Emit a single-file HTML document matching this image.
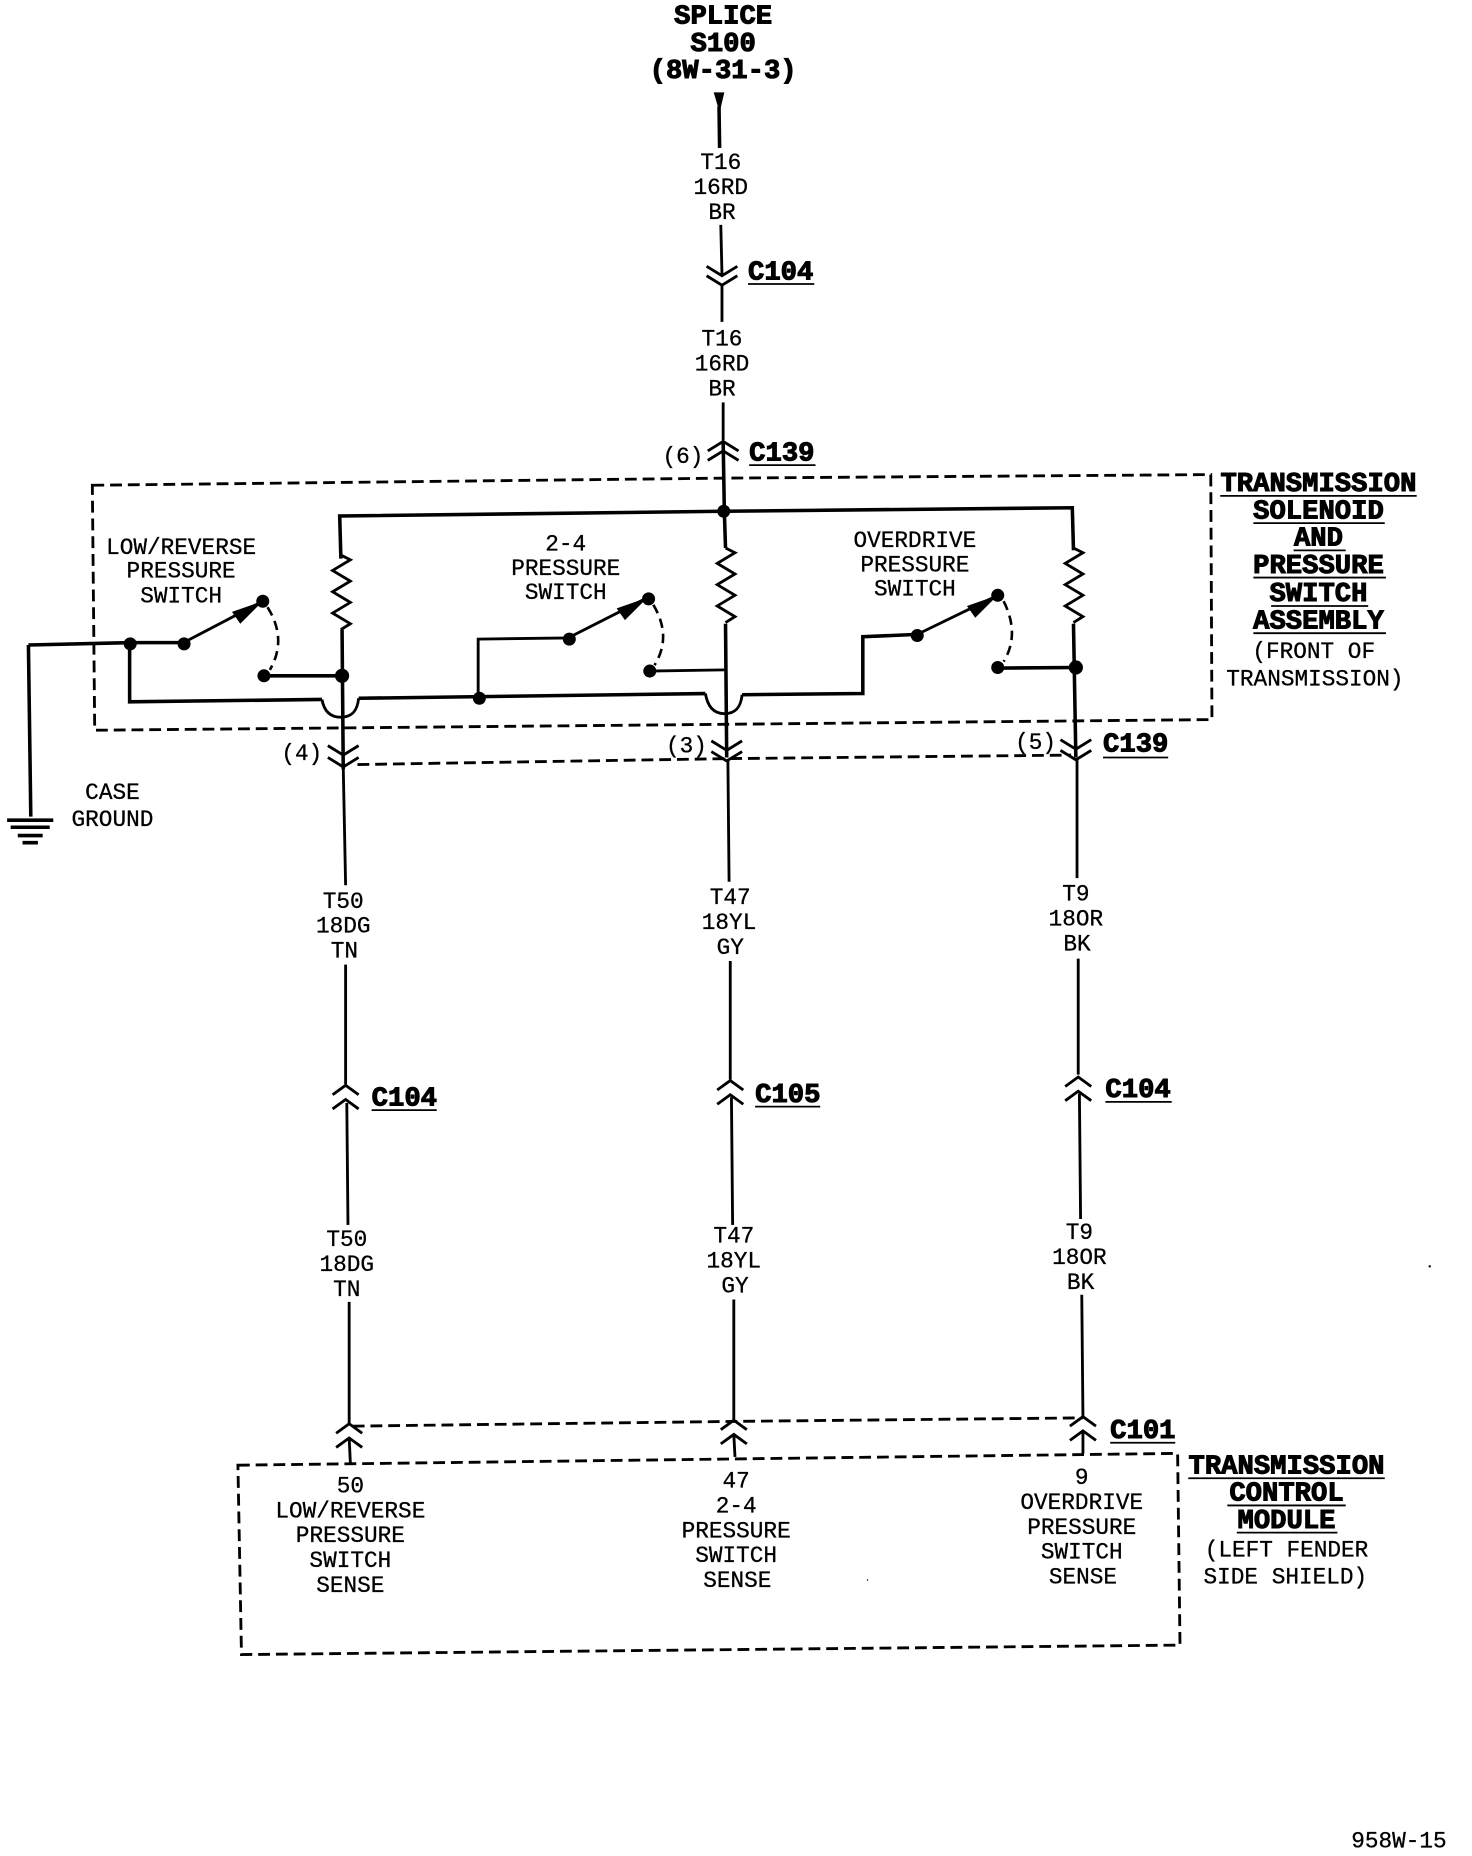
<!DOCTYPE html>
<html><head><meta charset="utf-8"><style>
html,body{margin:0;padding:0;background:#fff}
svg{display:block}
.t{font:19.2px "Liberation Mono",monospace;text-anchor:middle;fill:#000;stroke:#000;stroke-width:.25}
.b{font:bold 23px "Liberation Mono",monospace;text-anchor:middle;fill:#000;stroke:#000;stroke-width:.9}
.c{font:bold 23px "Liberation Mono",monospace;fill:#000;stroke:#000;stroke-width:.9}
.w{fill:none;stroke:#000;stroke-width:2.4;stroke-linejoin:miter}
.h{fill:none;stroke:#000;stroke-width:3}
.d{fill:none;stroke:#000;stroke-width:2.4;stroke-dasharray:10 5}
.a{fill:none;stroke:#000;stroke-width:2.2;stroke-dasharray:8 5}
.u{fill:none;stroke:#000;stroke-width:1.5}
</style></head><body>
<svg width="1472" height="1856" viewBox="0 0 1243.7 1568.2" xmlns="http://www.w3.org/2000/svg">
<rect width="1243.7" height="1568.2" fill="#fff"/>
<!-- top -->
<text class="b" x="611" y="20">SPLICE</text>
<text class="b" x="611" y="43">S100</text>
<text class="b" x="611" y="66">(8W-31-3)</text>
<path d="M603,78H612L608,95Z" fill="#000"/>
<path class="h" d="M607.5,90L608,125"/>
<text class="t" x="609" y="143">T16</text>
<text class="t" x="609" y="164">16RD</text>
<text class="t" x="610" y="185">BR</text>
<path class="w" d="M609,190L610,232M610,240V272"/>
<path class="w" d="M597,225L610,233L623,225M597,233L610,241L623,233"/>
<text class="c" x="632" y="236">C104</text><path class="u" d="M632,240H688"/>
<text class="t" x="610" y="292">T16</text>
<text class="t" x="610" y="313">16RD</text>
<text class="t" x="610" y="334">BR</text>
<path class="w" d="M611,340V372"/>
<path class="w" d="M598,381L611,373L624,381M598,389L611,381L624,389"/>
<text class="t" x="577" y="391">(6)</text>
<text class="c" x="633" y="389">C139</text><path class="u" d="M633,393H689"/>
<path class="h" d="M611,373L612,432"/>
<!-- assembly box -->
<path class="d" d="M78,410L611,404L1023,401L1024,608L612,612L80,617Z"/>
<text class="b" x="1114" y="415">TRANSMISSION</text><path class="u" d="M1031,419H1197"/>
<text class="b" x="1114" y="438">SOLENOID</text><path class="u" d="M1059,442H1170"/>
<text class="b" x="1114" y="461">AND</text><path class="u" d="M1093,465H1137"/>
<text class="b" x="1114" y="484">PRESSURE</text><path class="u" d="M1059,488H1171"/>
<text class="b" x="1114" y="508">SWITCH</text><path class="u" d="M1074,512H1156"/>
<text class="b" x="1114" y="531">ASSEMBLY</text><path class="u" d="M1059,535H1171"/>
<text class="t" x="1110" y="556">(FRONT OF</text>
<text class="t" x="1111" y="579">TRANSMISSION)</text>
<!-- bus -->
<path class="h" d="M288,472L287,436L611,432L906,429L907,465"/>
<circle cx="611.5" cy="432" r="5.5"/>
<path class="w" d="M288,469l8,4l-15,9l15,9l-15,9l15,9l-15,9l15,9l-8,5"/>
<path class="w" d="M613,463l8,4l-15,9l15,9l-15,9l15,9l-15,9l15,9l-8,5"/>
<path class="w" d="M907,463l8,4l-15,9l15,9l-15,9l15,9l-15,9l15,9l-8,5"/>
<path class="h" d="M612,432L613,463"/>
<path class="h" d="M289,532L290,650M613,527L614,640M907,527L909,640"/>
<!-- low/reverse switch -->
<text class="t" x="153" y="468">LOW/REVERSE</text>
<text class="t" x="153" y="488">PRESSURE</text>
<text class="t" x="153" y="509">SWITCH</text>
<path class="h" d="M24,545L110,543H155"/>
<path class="h" d="M24,545L26,690"/>
<path class="h" d="M6,693H45M9,699H42M15,706H36M19,712H32"/>
<path class="w" d="M155,543L222,508"/>
<path d="M222,508L196,517L203,527Z" fill="#000"/>
<circle cx="110" cy="544" r="5.5"/><circle cx="155.5" cy="544" r="5.5"/><circle cx="222" cy="508" r="5.5"/>
<circle cx="223" cy="571" r="5.5"/><circle cx="289" cy="571" r="6"/>
<path class="a" d="M226,513Q243,540 228,566"/>
<path class="h" d="M223,571H289"/>
<path class="h" d="M109.5,544V593L272,591"/>
<path class="w" d="M272,591C274,602 280,606 288,606C298,606 302,600 303,590"/>
<path class="h" d="M303,590L596,586"/>
<path class="w" d="M596,586C598,598 604,603 612,603C622,603 626,597 627,587"/>
<path class="h" d="M627,587L729,586V538L775,536"/>
<!-- 2-4 switch -->
<text class="t" x="478" y="465">2-4</text>
<text class="t" x="478" y="486">PRESSURE</text>
<text class="t" x="478" y="506">SWITCH</text>
<path class="w" d="M404,589V540L480,539L547,505"/>
<path d="M547,505L521,514L528,524Z" fill="#000"/>
<circle cx="405" cy="590" r="5.5"/><circle cx="481" cy="540" r="5.5"/><circle cx="548" cy="506" r="5.5"/><circle cx="549" cy="567" r="5.5"/>
<path class="a" d="M552,511Q568,538 553,562"/>
<path class="w" d="M549,567L612,566"/>
<!-- overdrive switch -->
<text class="t" x="773" y="462">OVERDRIVE</text>
<text class="t" x="773" y="483">PRESSURE</text>
<text class="t" x="773" y="503">SWITCH</text>
<path class="w" d="M775,536L843,503"/>
<path d="M843,503L817,512L824,522Z" fill="#000"/>
<circle cx="775" cy="537" r="5.5"/><circle cx="843" cy="503" r="5.5"/><circle cx="843" cy="564" r="5.5"/><circle cx="909" cy="564" r="6"/>
<path class="a" d="M848,508Q862,536 848,559"/>
<path class="h" d="M843,564.500L909,564"/>
<!-- C139 lower -->
<text class="t" x="255" y="642">(4)</text>
<text class="t" x="580" y="636">(3)</text>
<text class="t" x="875" y="633">(5)</text>
<path class="w" d="M277,630L290,638L303,630M277,640L290,648L303,640"/>
<path class="w" d="M601,626L614,634L627,626M601,635L614,643L627,635"/>
<path class="w" d="M896,625L909,633L922,625M896,634L909,642L922,634"/>
<path class="d" d="M302,646L614,641L905,638"/>
<text class="c" x="932" y="635">C139</text><path class="u" d="M932,640H987"/>
<text class="t" x="95" y="675">CASE</text>
<text class="t" x="95" y="698">GROUND</text>
<!-- wires -->
<path class="w" d="M290,648L292,748M292,815V916M293,932L294,1035M295,1100V1203"/>
<path class="w" d="M615,642L616,745M617,812V912M618,927L619,1035M620,1098V1200"/>
<path class="w" d="M910,642V742M911,810V908M912,924L913,1030M914,1094L915,1197"/>
<text class="t" x="290" y="767">T50</text><text class="t" x="290" y="788">18DG</text><text class="t" x="291" y="809">TN</text>
<text class="t" x="617" y="764">T47</text><text class="t" x="616" y="785">18YL</text><text class="t" x="617" y="806">GY</text>
<text class="t" x="909" y="761">T9</text><text class="t" x="909" y="782">18OR</text><text class="t" x="910" y="803">BK</text>
<path class="w" d="M281,925L292,917L303,925M281,937L292,929L303,937"/>
<path class="w" d="M606,921L617,913L628,921M606,933L617,925L628,933"/>
<path class="w" d="M900,918L911,910L922,918M900,930L911,922L922,930"/>
<text class="c" x="314" y="934">C104</text><path class="u" d="M314,938H369"/>
<text class="c" x="638" y="931">C105</text><path class="u" d="M638,935H693"/>
<text class="c" x="934" y="927">C104</text><path class="u" d="M934,931H990"/>
<text class="t" x="293" y="1053">T50</text><text class="t" x="293" y="1074">18DG</text><text class="t" x="293" y="1095">TN</text>
<text class="t" x="620" y="1050">T47</text><text class="t" x="620" y="1071">18YL</text><text class="t" x="621" y="1092">GY</text>
<text class="t" x="912" y="1047">T9</text><text class="t" x="912" y="1068">18OR</text><text class="t" x="913" y="1089">BK</text>
<!-- C101 -->
<path class="d" d="M298,1205L620,1201L915,1198"/>
<path class="w" d="M284,1211L295,1203L306,1211M284,1223L295,1215L306,1223"/>
<path class="w" d="M609,1208L620,1200L631,1208M609,1220L620,1212L631,1220"/>
<path class="w" d="M904,1205L915,1197L926,1205M904,1217L915,1209L926,1217"/>
<path class="w" d="M295,1215L296,1236M620,1212L621,1231M915,1209V1228"/>
<text class="c" x="938" y="1215">C101</text><path class="u" d="M938,1219H993"/>
<!-- module box -->
<path class="d" d="M201,1238L995,1228L997,1390L204,1398Z"/>
<text class="t" x="296" y="1261">50</text><text class="t" x="296" y="1282">LOW/REVERSE</text><text class="t" x="296" y="1303">PRESSURE</text><text class="t" x="296" y="1324">SWITCH</text><text class="t" x="296" y="1345">SENSE</text>
<text class="t" x="622" y="1257">47</text><text class="t" x="622" y="1278">2-4</text><text class="t" x="622" y="1299">PRESSURE</text><text class="t" x="622" y="1320">SWITCH</text><text class="t" x="623" y="1341">SENSE</text>
<text class="t" x="914" y="1254">9</text><text class="t" x="914" y="1275">OVERDRIVE</text><text class="t" x="914" y="1296">PRESSURE</text><text class="t" x="914" y="1317">SWITCH</text><text class="t" x="915" y="1338">SENSE</text>
<text class="b" x="1087" y="1245">TRANSMISSION</text><path class="u" d="M1004,1249H1170"/>
<text class="b" x="1087" y="1268">CONTROL</text><path class="u" d="M1037,1272H1137"/>
<text class="b" x="1087" y="1291">MODULE</text><path class="u" d="M1045,1295H1130"/>
<text class="t" x="1087" y="1315">(LEFT FENDER</text>
<text class="t" x="1086" y="1338">SIDE SHIELD)</text>
<text class="t" x="1182" y="1561">958W-15</text>
<circle cx="1208" cy="1070" r="1"/><circle cx="733" cy="1335" r=".6"/>
</svg>
</body></html>
